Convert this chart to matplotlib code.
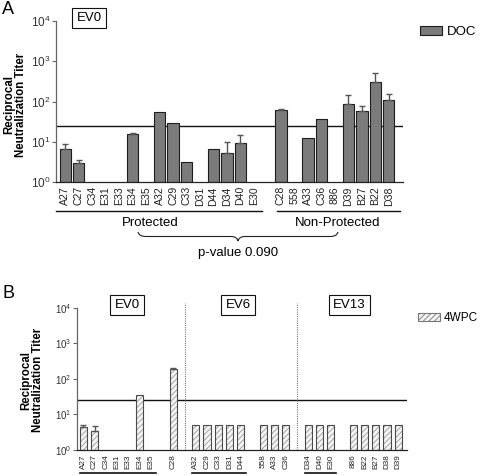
import numpy as np
import matplotlib
matplotlib.use("Agg")
import matplotlib.pyplot as plt
import matplotlib.transforms as mtrans
from matplotlib.patches import Patch, PathPatch
from matplotlib.path import Path

plt.rcParams['font.family'] = ['Liberation Sans', 'DejaVu Sans']
plt.rcParams['mathtext.fontset'] = 'custom'
plt.rcParams['mathtext.rm'] = 'Liberation Sans'
plt.rcParams['mathtext.it'] = 'Liberation Sans'
plt.rcParams['hatch.linewidth'] = 0.6

# ---------------- data ----------------
nan = np.nan
# Panel A (DOC, EV0)
protected_labels = ["A27", "C27", "C34", "E31", "E33", "E34", "E35", "A32", "C29", "C33",
                    "D31", "D44", "D34", "D40", "E30"]
protected_vals = [6.6, 2.9, nan, nan, nan, 15.8, nan, 56, 29, 3.2, nan, 6.6, 5.2, 9.3, nan]
protected_errs = [2.3, 0.6, nan, nan, nan, 1.0, nan, 0, 0, 0, nan, 0, 4.8, 5.1, nan]
nonprot_labels = ["C28", "558", "A33", "C36", "886", "D39", "B27", "B22", "D38"]
nonprot_vals = [63, nan, 12.4, 36, nan, 89, 57, 310, 112]
nonprot_errs = [2, nan, 0, 0, nan, 52, 19, 200, 40]
threshold = 25
p_value_text = "p-value 0.090"

# Panel B (4WPC) groups
b_groups_labels = [
    ["A27", "C27", "C34", "E31", "E33", "E34", "E35"],
    ["C28"],
    ["A32", "C29", "C33", "D31", "D44"],
    ["558", "A33", "C36"],
    ["D34", "D40", "E30"],
    ["886", "B22", "B27", "D38", "D39"],
]
b_groups_vals = [
    [4.35, 3.5, nan, nan, nan, 36, nan],
    [192],
    [5, 5, 5, 5, 5],
    [5, 5, 5],
    [5, 5, 5],
    [5, 5, 5, 5, 5],
]
b_groups_errs = [
    [0.55, 1.2, nan, nan, nan, 0, nan],
    [8],
    [0, 0, 0, 0, 0],
    [0, 0, 0],
    [0, 0, 0],
    [0, 0, 0, 0, 0],
]
b_underlined = [0, 2, 4]
b_dividers_after = [1, 3]
b_ev_labels = ["EV0", "EV6", "EV13"]

yticks = [1, 10, 100, 1000, 10000]
ytick_labels = [r"$10^{0}$", r"$10^{1}$", r"$10^{2}$", r"$10^{3}$", r"$10^{4}$"]

# ---------------- figure ----------------
W, H = 480, 476
fig = plt.figure(figsize=(W / 100, H / 100), dpi=100)
px = mtrans.Affine2D().scale(1 / W, -1 / H).translate(0, 1) + fig.transFigure


def style_axis(ax, xls, yls):
    ax.set_yscale("log")
    ax.set_ylim(1, 1e4)
    ax.set_yticks(yticks)
    ax.set_yticklabels(ytick_labels)
    ax.yaxis.set_minor_locator(matplotlib.ticker.NullLocator())
    for s in ["top", "right"]:
        ax.spines[s].set_visible(False)
    ax.spines["left"].set_color("#666666")
    ax.spines["bottom"].set_color("#222222")
    ax.spines["left"].set_linewidth(0.9)
    ax.spines["bottom"].set_linewidth(0.9)
    ax.tick_params(axis="y", length=3, width=0.8, color="#666666", labelsize=yls,
                   labelcolor="#333333", pad=1)
    ax.tick_params(axis="x", length=0, labelsize=xls, labelrotation=90, pad=3,
                   labelcolor="#222222")
    ax.axhline(threshold, color="#111111", lw=1.0, zorder=1)


# ---------------- Panel A ----------------
axA = fig.add_axes([56 / W, 1 - 182 / H, (403 - 56) / W, (182 - 21) / H])
a_labels = protected_labels + nonprot_labels
a_pos = list(range(len(protected_labels))) + \
    list(range(len(protected_labels) + 1, len(protected_labels) + 1 + len(nonprot_labels)))
a_vals = np.array(protected_vals + nonprot_vals, dtype=float)
a_errs = np.array(protected_errs + nonprot_errs, dtype=float)
a_pos = np.array(a_pos)
mask = ~np.isnan(a_vals)
axA.bar(a_pos[mask], a_vals[mask] - 1, width=0.82, bottom=1, color="#7b7b7b",
        edgecolor="#1e1e1e", linewidth=0.8, zorder=2)
emask = mask & (np.nan_to_num(a_errs) > 0)
axA.errorbar(a_pos[emask], a_vals[emask],
             yerr=[np.zeros(emask.sum()), a_errs[emask]],
             fmt="none", ecolor="#555555", elinewidth=1.0, capsize=2.5, capthick=1.0, zorder=3)
axA.set_xlim(-0.67, 25.04)
axA.set_xticks(a_pos)
axA.set_xticklabels(a_labels)
style_axis(axA, 7.6, 8.5)

# group underlines
n_p = len(protected_labels)
axA.plot([-0.67, n_p - 0.4], [-0.178, -0.178], transform=axA.get_xaxis_transform(),
         color="#111111", lw=1.0, clip_on=False)
axA.plot([n_p + 0.7, a_pos[-1] + 0.8], [-0.178, -0.178], transform=axA.get_xaxis_transform(),
         color="#111111", lw=1.0, clip_on=False)
fig.text(150 / W, 1 - 223 / H, "Protected", ha="center", va="center", fontsize=9.5)
fig.text(338 / W, 1 - 223 / H, "Non-Protected", ha="center", va="center", fontsize=9.5)
fig.text(238 / W, 1 - 253 / H, p_value_text, ha="center", va="center", fontsize=9.5)

# brace
verts = [(138, 232), (139, 236.5), (146, 236.5),
         (231, 236.5), (237, 236.5), (238, 241),
         (239, 236.5), (245, 236.5),
         (330, 236.5), (337, 236.5), (338, 232)]
codes = [Path.MOVETO, Path.CURVE3, Path.CURVE3,
         Path.LINETO, Path.CURVE3, Path.CURVE3,
         Path.CURVE3, Path.CURVE3,
         Path.LINETO, Path.CURVE3, Path.CURVE3]
fig.add_artist(PathPatch(Path(verts, codes), transform=px, fill=False,
                         edgecolor="#222222", lw=0.8))

fig.text(15 / W, 1 - 105 / H, "Reciprocal\nNeutralization Titer", rotation=90,
         ha="center", va="center", fontsize=8.3, fontweight="bold", linespacing=1.05)
fig.text(2 / W, 1 - 9 / H, "A", ha="left", va="center", fontsize=13)
fig.text(89 / W, 1 - 18 / H, "EV0", ha="center", va="center", fontsize=9.5,
         bbox=dict(boxstyle="square,pad=0.3", fc="white", ec="#111111", lw=0.8))
fig.legend(handles=[Patch(facecolor="#7b7b7b", edgecolor="#1e1e1e", lw=0.8, label="DOC")],
           loc="center left", bbox_to_anchor=(420 / W, 1 - 32 / H), frameon=False,
           fontsize=9.5, handlelength=1.7, handleheight=0.7, handletextpad=0.35,
           borderpad=0, borderaxespad=0)

# ---------------- Panel B ----------------
axB = fig.add_axes([77 / W, 1 - 450 / H, (406.7 - 77) / W, (450 - 307.7) / H])
b_pos, b_labels, b_vals, b_errs, g_spans = [], [], [], [], []
cur = 0
for labs, vals, errs in zip(b_groups_labels, b_groups_vals, b_groups_errs):
    start = cur
    for l, v, e in zip(labs, vals, errs):
        b_pos.append(cur); b_labels.append(l); b_vals.append(v); b_errs.append(e)
        cur += 1
    g_spans.append((start, cur - 1))
    cur += 1
b_pos = np.array(b_pos); b_vals = np.array(b_vals, float); b_errs = np.array(b_errs, float)
m = ~np.isnan(b_vals)
axB.bar(b_pos[m], b_vals[m] - 1, width=0.66, bottom=1, color="#f4f4f4", edgecolor="#9a9a9a",
        hatch="//////", linewidth=0, zorder=2)
axB.bar(b_pos[m], b_vals[m] - 1, width=0.66, bottom=1, fill=False, edgecolor="#4a4a4a",
        linewidth=0.8, zorder=3)
em = m & (np.nan_to_num(b_errs) > 0)
axB.errorbar(b_pos[em], b_vals[em], yerr=[np.zeros(em.sum()), b_errs[em]],
             fmt="none", ecolor="#555555", elinewidth=1.0, capsize=2.3, capthick=1.0, zorder=4)
axB.set_xlim(-0.56, 28.75)
axB.set_xticks(b_pos)
axB.set_xticklabels(b_labels)
style_axis(axB, 5.9, 7)
for gi in b_underlined:
    s, e = g_spans[gi]
    axB.plot([s - 0.3, e + 0.45], [-0.162, -0.162], transform=axB.get_xaxis_transform(),
             color="#111111", lw=1.2, clip_on=False)
for gi in b_dividers_after:
    xd = g_spans[gi][1] + 1
    axB.plot([xd, xd], [0, 1.035], transform=axB.get_xaxis_transform(),
             color="#777777", lw=0.8, ls=(0, (1, 1)), clip_on=False, zorder=1)
ev_x = [127, 238, 349.5]
for lab, xx in zip(b_ev_labels, ev_x):
    fig.text(xx / W, 1 - 305 / H, lab, ha="center", va="center", fontsize=9.5,
             bbox=dict(boxstyle="square,pad=0.3", fc="white", ec="#111111", lw=0.8))
fig.text(32 / W, 1 - 380 / H, "Reciprocal\nNeutralization Titer", rotation=90,
         ha="center", va="center", fontsize=8.3, fontweight="bold", linespacing=1.05)
fig.text(2 / W, 1 - 293 / H, "B", ha="left", va="center", fontsize=13)
fig.legend(handles=[Patch(facecolor="#f4f4f4", edgecolor="#777777", hatch="//////",
                          lw=0.8, label="4WPC")],
           loc="center left", bbox_to_anchor=(418 / W, 1 - 318 / H), frameon=False,
           fontsize=8.5, handlelength=1.9, handleheight=0.7, handletextpad=0.25,
           borderpad=0, borderaxespad=0)

fig.savefig("out.png", dpi=100)
